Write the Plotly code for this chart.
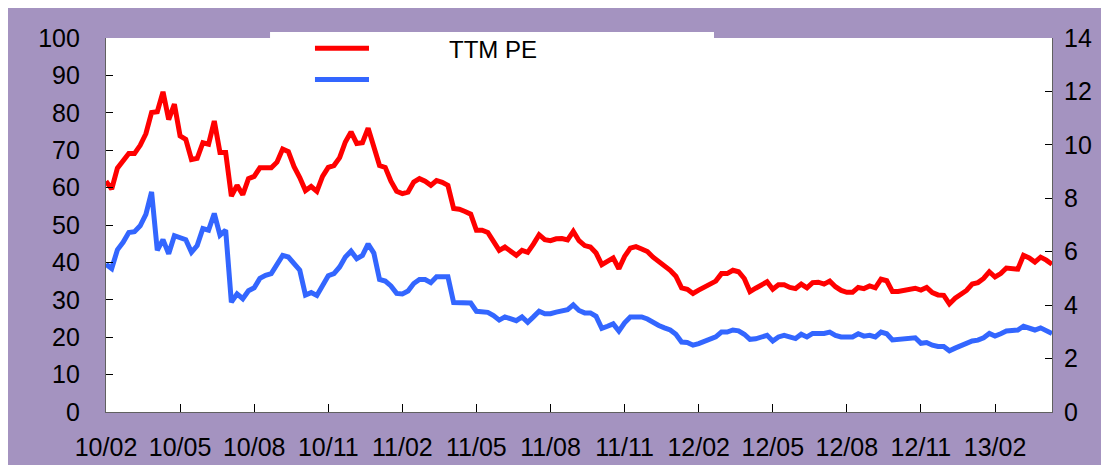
import pandas as pd
import plotly.graph_objects as go

# weekly TTM PE (left axis) and second series (right axis)
pe = [
    61.7, 59.6, 65.2, 66.9, 69.1, 69.1, 71.3, 74.4, 80.1, 80.3, 85.6, 78.2, 82.3, 73.8, 72.9, 67.5, 67.8, 72.0, 71.6, 77.8,
    69.4, 69.4, 57.7, 60.6, 58.1, 62.4, 63.0, 65.3,
    65.4, 65.3, 66.8, 70.3, 69.6, 65.6, 62.7, 59.2, 60.3, 59.0, 63.0, 65.4, 65.9, 68.0, 72.2, 74.9, 71.8, 72.0, 75.9, 70.9,
    65.9, 65.4, 61.7, 59.0, 58.4, 58.8, 61.5,
    62.4, 61.7, 60.6, 61.9, 61.4, 60.6, 54.4, 54.2, 53.6, 52.9, 48.6, 48.6, 48.0, 45.8, 43.2, 44.1, 43.0, 41.9, 43.2, 42.7,
    44.9, 47.4, 46.1, 45.8, 46.3, 46.4, 46.0,
    48.3, 45.8, 44.5, 44.1, 42.5, 39.4, 40.3, 41.2, 38.3, 41.6, 43.8, 44.2, 43.6, 42.9, 41.4, 40.3, 39.2, 37.9, 36.3, 33.2,
    32.8, 31.7, 32.6, 33.3, 34.1, 35.0, 37.0,
    37.0, 37.9, 37.5, 35.7, 32.2, 33.1, 34.0, 34.8, 32.8, 34.0, 34.0, 33.3, 33.0, 34.2, 33.2, 34.6, 34.7, 34.2, 35.0, 33.5,
    32.5, 32.0, 32.0, 33.3, 33.0, 33.7, 33.2,
    35.5, 35.1, 32.2, 32.2, 32.6, 33.0, 33.1, 32.6, 33.3, 31.9, 31.3, 31.2, 28.9, 30.4, 31.5, 32.5, 34.2, 34.6, 35.7, 37.5,
    36.1, 37.0, 38.5, 38.3, 38.2, 41.9, 41.2, 40.1, 41.4, 40.6, 39.5,
]
pb = [
    5.53, 5.37, 6.07, 6.35, 6.72, 6.75, 6.97, 7.40, 8.24, 6.05, 6.45, 5.92, 6.60, 6.54, 6.45, 5.98, 6.23, 6.87, 6.81, 7.43,
    6.62, 6.81, 4.11, 4.42, 4.24, 4.54, 4.65, 5.00,
    5.12, 5.18, 5.49, 5.86, 5.80, 5.55, 5.31, 4.38, 4.47, 4.36, 4.75, 5.10, 5.18, 5.43, 5.80, 6.02, 5.74, 5.86, 6.29, 5.95,
    4.96, 4.90, 4.72, 4.44, 4.42, 4.53, 4.81,
    4.96, 4.96, 4.84, 5.06, 5.06, 5.06, 4.10, 4.10, 4.10, 4.08, 3.77, 3.77, 3.73, 3.61, 3.44, 3.56, 3.50, 3.42, 3.56, 3.36,
    3.56, 3.77, 3.68, 3.68, 3.74, 3.77, 3.83,
    4.01, 3.80, 3.71, 3.71, 3.58, 3.13, 3.21, 3.30, 3.03, 3.34, 3.56, 3.58, 3.56, 3.48, 3.34, 3.24, 3.15, 3.07, 2.91, 2.62,
    2.60, 2.50, 2.56, 2.63, 2.72, 2.81, 2.99,
    2.99, 3.07, 3.04, 2.91, 2.72, 2.74, 2.82, 2.87, 2.66, 2.81, 2.87, 2.81, 2.75, 2.91, 2.81, 2.94, 2.94, 2.94, 2.99, 2.87,
    2.81, 2.81, 2.81, 2.93, 2.84, 2.87, 2.81,
    2.99, 2.93, 2.70, 2.72, 2.75, 2.76, 2.78, 2.57, 2.60, 2.50, 2.45, 2.45, 2.29, 2.39, 2.48, 2.56, 2.66, 2.69, 2.78, 2.94,
    2.84, 2.93, 3.03, 3.05, 3.07, 3.21, 3.13, 3.07, 3.15, 3.07, 2.94,
]
tick_labels = ["10/02", "10/05", "10/08", "10/11", "11/02", "11/05", "11/08",
               "11/11", "12/02", "12/05", "12/08", "12/11", "13/02"]

dates = pd.date_range("2010-02-19", periods=len(pe), freq="W-FRI")
tickvals = list(dates[::13])[:len(tick_labels)]

purple = "#A493C0"
red = "#FF0000"
blue = "#3366FF"
font = dict(family="Liberation Sans, Arial, sans-serif", size=25, color="black")

fig = go.Figure()
fig.add_trace(go.Scatter(x=dates, y=pe, mode="lines", name="TTM PE",
                         line=dict(color=red, width=5)))
fig.add_trace(go.Scatter(x=dates, y=pb, mode="lines", name="", yaxis="y2",
                         line=dict(color=blue, width=5)))

axis_common = dict(showgrid=False, zeroline=False, showline=True, linecolor="#606060",
                   linewidth=1.2, ticks="inside", tickcolor="black", tickfont=font)

fig.update_layout(
    width=1109, height=465,
    margin=dict(l=98, r=65, t=30, b=56),
    paper_bgcolor=purple, plot_bgcolor="white",
    showlegend=False, font=font,
    xaxis=dict(axis_common, type="date", range=[dates[0], dates[-1]],
               tickvals=tickvals, ticktext=tick_labels, ticklen=8, ticklabelstandoff=13),
    yaxis=dict(axis_common, range=[0, 100], dtick=10, ticklen=7, ticklabelstandoff=20),
    yaxis2=dict(axis_common, range=[0, 14], dtick=2, ticklen=7, overlaying="y", side="right",
                ticklabelstandoff=6),
)

# white legend box sticking above the plot area
fig.add_shape(type="rect", xref="paper", yref="paper", x0=0.1734, x1=0.6427, y0=0.99, y1=1.0158,
              fillcolor="white", line_width=0, layer="below")
# legend
fig.add_shape(type="line", xref="paper", yref="paper", x0=0.2209, x1=0.278, y0=0.9728, y1=0.9728,
              line=dict(color=red, width=5))
fig.add_shape(type="line", xref="paper", yref="paper", x0=0.2209, x1=0.278, y0=0.889, y1=0.889,
              line=dict(color=blue, width=5))
fig.add_annotation(xref="paper", yref="paper", x=0.3605, y=0.968, xanchor="left", yanchor="middle",
                   text="TTM PE", showarrow=False, font=dict(font, size=24))

fig.write_html("out.html")
